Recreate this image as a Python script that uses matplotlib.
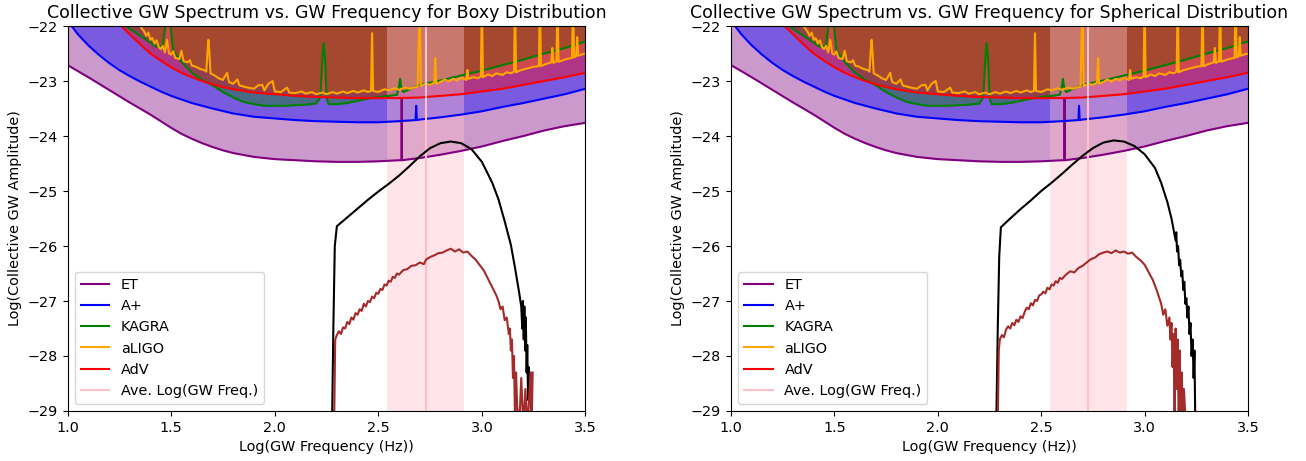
import numpy as np
import matplotlib
matplotlib.use('Agg')
import matplotlib.pyplot as plt

plt.rcParams['font.size'] = 10.4

# detector sensitivity curves, log10(freq) vs log10(strain)
et_x = [1.00, 1.10, 1.20, 1.30, 1.40, 1.45, 1.50, 1.55, 1.60, 1.65, 1.70, 1.75, 1.80, 1.90, 2.00,
        2.10, 2.20, 2.30, 2.40, 2.50, 2.60, 2.612, 2.613, 2.614, 2.70, 2.80, 2.90, 3.00, 3.10,
        3.20, 3.30, 3.40, 3.50]
et_y = [-22.71, -22.93, -23.16, -23.39, -23.61, -23.73, -23.85, -23.96, -24.05, -24.13, -24.20,
        -24.26, -24.31, -24.38, -24.42, -24.44, -24.46, -24.47, -24.47, -24.46, -24.44, -24.44,
        -23.31, -24.44, -24.40, -24.34, -24.27, -24.19, -24.09, -24.00, -23.90, -23.82, -23.76]

aplus_x = [0.98, 1.02, 1.05, 1.10, 1.15, 1.20, 1.25, 1.30, 1.35, 1.40, 1.45, 1.50, 1.60, 1.70,
           1.80, 1.90, 2.00, 2.10, 2.20, 2.30, 2.40, 2.50, 2.60, 2.680, 2.683, 2.686, 2.70,
           2.80, 2.90, 3.00, 3.10, 3.20, 3.30, 3.40, 3.50]
aplus_y = [-21.80, -22.00, -22.15, -22.35, -22.52, -22.67, -22.80, -22.91, -23.01, -23.10, -23.19,
           -23.27, -23.40, -23.50, -23.59, -23.65, -23.68, -23.71, -23.73, -23.74, -23.75, -23.75,
           -23.73, -23.71, -23.45, -23.71, -23.70, -23.66, -23.61, -23.55, -23.47, -23.40, -23.32,
           -23.24, -23.14]

kagra_x = [1.25, 1.28, 1.32, 1.36, 1.40, 1.43, 1.46, 1.475, 1.485, 1.495, 1.51, 1.55, 1.60, 1.65,
           1.70, 1.75, 1.80, 1.85, 1.90, 1.95, 2.00, 2.05, 2.10, 2.15, 2.20, 2.22, 2.23, 2.236,
           2.243, 2.25, 2.26, 2.30, 2.35, 2.40, 2.45, 2.50, 2.55, 2.59, 2.60, 2.605, 2.61, 2.62,
           2.70, 2.80, 2.90, 3.00, 3.10, 3.20, 3.30, 3.40, 3.50]
kagra_y = [-21.80, -22.00, -22.10, -22.20, -22.30, -22.38, -22.36, -21.90, -21.50, -21.90, -22.45,
           -22.65, -22.85, -22.98, -23.08, -23.20, -23.30, -23.38, -23.42, -23.45, -23.45, -23.45,
           -23.44, -23.43, -23.41, -23.30, -22.60, -22.31, -22.60, -23.30, -23.42, -23.42, -23.40,
           -23.36, -23.32, -23.29, -23.27, -23.25, -23.10, -22.96, -23.10, -23.20, -23.07, -22.99,
           -22.90, -22.81, -22.71, -22.61, -22.50, -22.40, -22.28]

aligo_x = [1.30, 1.35, 1.37, 1.38, 1.39, 1.40, 1.41, 1.42, 1.43, 1.44, 1.45, 1.46, 1.47, 1.48,
           1.49, 1.50, 1.51, 1.52, 1.54, 1.55, 1.56, 1.58, 1.59, 1.60, 1.62, 1.64, 1.66, 1.67,
           1.675, 1.68, 1.685, 1.69, 1.71, 1.73, 1.75, 1.77, 1.775, 1.78, 1.80, 1.82, 1.83, 1.85,
           1.87, 1.90, 1.92, 1.94, 1.95, 1.97, 1.99, 2.00, 2.03, 2.06, 2.07, 2.10, 2.13, 2.15,
           2.18, 2.20, 2.23, 2.25, 2.28, 2.30, 2.33, 2.35, 2.38, 2.40, 2.43, 2.45, 2.465, 2.47,
           2.475, 2.50, 2.53, 2.55, 2.58, 2.60, 2.63, 2.65, 2.69, 2.70, 2.705, 2.73, 2.75, 2.77,
           2.775, 2.78, 2.80, 2.82, 2.84, 2.86, 2.88, 2.90, 2.925, 2.93, 2.935, 2.96, 2.98, 2.995,
           3.00, 3.005, 3.03, 3.05, 3.07, 3.10, 3.12, 3.14, 3.155, 3.16, 3.165, 3.19, 3.22, 3.25,
           3.275, 3.28, 3.285, 3.31, 3.335, 3.34, 3.345, 3.36, 3.365, 3.37, 3.40, 3.42, 3.435,
           3.44, 3.445, 3.455, 3.46, 3.465, 3.48, 3.50]
aligo_y = [-21.70, -22.00, -22.10, -22.18, -22.12, -22.25, -22.22, -22.32, -22.26, -22.38, -22.42,
           -22.36, -22.48, -22.25, -22.50, -22.52, -22.46, -22.58, -22.60, -22.45, -22.64, -22.66,
           -22.62, -22.72, -22.74, -22.78, -22.80, -22.83, -22.50, -22.25, -22.50, -22.86, -22.90,
           -22.95, -22.98, -22.85, -22.95, -23.02, -23.05, -22.97, -23.08, -23.10, -23.12, -23.14,
           -23.08, -23.07, -23.17, -23.05, -23.00, -23.19, -23.20, -23.12, -23.21, -23.22, -23.19,
           -23.23, -23.20, -23.24, -23.21, -23.24, -23.20, -23.23, -23.19, -23.22, -23.18, -23.21,
           -23.17, -23.20, -23.18, -22.13, -23.18, -23.20, -23.15, -23.17, -23.13, -23.16, -23.12,
           -23.14, -23.10, -21.50, -23.09, -23.05, -23.07, -23.03, -22.58, -23.05, -23.02, -22.97,
           -23.01, -22.96, -22.99, -22.94, -22.98, -22.80, -22.96, -22.93, -22.95, -22.92, -21.50,
           -22.93, -22.88, -22.91, -22.86, -22.89, -22.84, -22.86, -22.83, -21.50, -22.84, -22.80,
           -22.77, -22.74, -22.73, -21.50, -22.73, -22.69, -22.66, -22.40, -22.67, -22.64, -21.50,
           -22.65, -22.61, -22.59, -22.58, -21.50, -22.57, -22.55, -22.20, -22.54, -22.52, -22.50]

adv_x = [1.22, 1.26, 1.30, 1.35, 1.40, 1.45, 1.50, 1.55, 1.60, 1.65, 1.70, 1.75, 1.80, 1.90, 2.00,
         2.10, 2.20, 2.30, 2.40, 2.50, 2.60, 2.70, 2.80, 2.90, 3.00, 3.10, 3.20, 3.30, 3.40, 3.50]
adv_y = [-21.80, -22.00, -22.15, -22.33, -22.50, -22.63, -22.75, -22.85, -22.93, -23.00, -23.06,
         -23.11, -23.15, -23.21, -23.24, -23.27, -23.29, -23.30, -23.31, -23.31, -23.31, -23.30,
         -23.27, -23.24, -23.19, -23.14, -23.07, -23.00, -22.93, -22.85]

# mean and spread of log(GW freq)
ave_logf = 2.728
std_logf = 0.187

# collective GW spectrum, boxy distribution
box_x = [2.277, 2.283, 2.290, 2.300, 2.35, 2.40, 2.45, 2.50, 2.55, 2.60, 2.65, 2.70, 2.75, 2.80,
         2.85, 2.90, 2.95, 3.00, 3.05, 3.08, 3.11, 3.14, 3.16, 3.18, 3.19, 3.195, 3.198, 3.202,
         3.205, 3.209, 3.212, 3.216, 3.219, 3.223, 3.226, 3.230, 3.234, 3.238]
box_y = [-29.2, -27.5, -26.0, -25.64, -25.48, -25.32, -25.16, -25.01, -24.87, -24.72, -24.55,
         -24.37, -24.22, -24.13, -24.10, -24.13, -24.24, -24.47, -24.85, -25.15, -25.55, -25.98,
         -26.40, -26.85, -27.10, -27.50, -27.00, -27.70, -27.10, -27.90, -27.30, -28.30, -27.80,
         -28.80, -28.20, -28.70, -28.40, -29.20]

box_bx = [2.287, 2.292, 2.30, 2.31, 2.32, 2.33, 2.34, 2.35, 2.36, 2.37, 2.38, 2.39, 2.40, 2.41,
          2.42, 2.43, 2.44, 2.45, 2.46, 2.47, 2.48, 2.49, 2.50, 2.51, 2.52, 2.53, 2.54, 2.55,
          2.56, 2.57, 2.58, 2.59, 2.60, 2.62, 2.64, 2.66, 2.68, 2.70, 2.72, 2.73, 2.75, 2.77,
          2.79, 2.81, 2.83, 2.85, 2.87, 2.89, 2.91, 2.93, 2.95, 2.97, 2.99, 3.01, 3.03, 3.05,
          3.07, 3.08, 3.09, 3.10, 3.11, 3.12, 3.13, 3.135, 3.14, 3.145, 3.15, 3.155, 3.16, 3.165,
          3.17, 3.18, 3.19, 3.20, 3.21, 3.22, 3.235, 3.24, 3.245]
box_by = [-29.2, -27.70, -27.62, -27.55, -27.60, -27.48, -27.50, -27.38, -27.42, -27.30, -27.34,
          -27.22, -27.25, -27.15, -27.18, -27.05, -27.10, -27.00, -27.02, -26.92, -26.95, -26.85,
          -26.87, -26.78, -26.80, -26.70, -26.72, -26.63, -26.65, -26.56, -26.58, -26.50, -26.52,
          -26.44, -26.42, -26.36, -26.35, -26.30, -26.33, -26.25, -26.20, -26.17, -26.13, -26.12,
          -26.08, -26.05, -26.10, -26.06, -26.12, -26.10, -26.18, -26.25, -26.35, -26.45, -26.60,
          -26.75, -26.90, -27.00, -27.15, -27.10, -27.35, -27.30, -27.60, -27.50, -27.90, -27.70,
          -28.40, -28.00, -29.20, -28.30, -28.90, -29.30, -28.40, -29.30, -28.60, -29.30, -28.30,
          -29.30, -28.30]

# collective GW spectrum, spherical distribution
sph_x = [2.283, 2.290, 2.297, 2.305, 2.35, 2.40, 2.45, 2.50, 2.55, 2.60, 2.65, 2.70, 2.75, 2.80,
         2.85, 2.90, 2.95, 3.00, 3.05, 3.08, 3.11, 3.13, 3.15, 3.153, 3.157, 3.162, 3.167, 3.172,
         3.177, 3.182, 3.187, 3.192, 3.197, 3.202, 3.207, 3.212, 3.217, 3.222, 3.227, 3.232,
         3.237, 3.241, 3.245]
sph_y = [-29.2, -27.5, -26.2, -25.66, -25.50, -25.33, -25.17, -25.00, -24.85, -24.69, -24.52,
         -24.36, -24.22, -24.12, -24.08, -24.10, -24.18, -24.33, -24.58, -24.85, -25.20, -25.50,
         -25.90, -25.75, -26.10, -26.00, -26.35, -26.25, -26.55, -26.45, -26.80, -26.65, -27.05,
         -26.95, -27.30, -27.10, -27.60, -27.40, -28.00, -27.70, -28.40, -27.90, -29.20]

sph_bx = [2.290, 2.295, 2.30, 2.31, 2.32, 2.33, 2.34, 2.35, 2.36, 2.37, 2.38, 2.39, 2.40, 2.41,
          2.42, 2.43, 2.44, 2.45, 2.46, 2.47, 2.48, 2.49, 2.50, 2.51, 2.52, 2.53, 2.54, 2.55,
          2.56, 2.57, 2.58, 2.59, 2.60, 2.62, 2.64, 2.66, 2.68, 2.70, 2.72, 2.74, 2.76, 2.78,
          2.80, 2.82, 2.84, 2.86, 2.88, 2.90, 2.92, 2.94, 2.96, 2.98, 3.00, 3.02, 3.04, 3.06,
          3.08, 3.09, 3.10, 3.11, 3.12, 3.125, 3.13, 3.135, 3.14, 3.145, 3.15, 3.155, 3.16,
          3.165, 3.17, 3.175, 3.18, 3.185, 3.19, 3.20]
sph_by = [-29.2, -27.90, -27.70, -27.62, -27.66, -27.52, -27.46, -27.50, -27.40, -27.44, -27.34,
          -27.38, -27.28, -27.31, -27.20, -27.12, -27.15, -27.04, -27.08, -26.98, -27.00, -26.90,
          -26.88, -26.83, -26.86, -26.76, -26.79, -26.70, -26.72, -26.64, -26.67, -26.58, -26.60,
          -26.52, -26.46, -26.48, -26.40, -26.36, -26.30, -26.24, -26.21, -26.15, -26.12, -26.10,
          -26.13, -26.08, -26.12, -26.10, -26.14, -26.12, -26.20, -26.26, -26.34, -26.48, -26.62,
          -26.82, -27.05, -27.25, -27.15, -27.45, -27.30, -27.70, -27.40, -28.20, -27.60, -29.20,
          -27.50, -28.60, -27.70, -29.30, -27.90, -29.30, -28.30, -29.30, -28.60, -29.30]

detectors = [(et_x, et_y, 'purple', 'ET'),
             (aplus_x, aplus_y, 'blue', 'A+'),
             (kagra_x, kagra_y, 'green', 'KAGRA'),
             (aligo_x, aligo_y, 'orange', 'aLIGO'),
             (adv_x, adv_y, 'red', 'AdV')]
fill_order = [0, 1, 3, 2, 4]


def draw(ax, title, sx, sy, bx, by):
    for i in fill_order:
        x, y, c, lab = detectors[i]
        ax.fill_between(x, y, -21, color=c, alpha=0.4, linewidth=0)
    for x, y, c, lab in detectors:
        ax.plot(x, y, color=c, label=lab, linewidth=1.5)
    ax.axvspan(ave_logf - std_logf, ave_logf + std_logf, color='pink', alpha=0.4, linewidth=0)
    ax.axvline(ave_logf, color='pink', linewidth=1.5, label='Ave. Log(GW Freq.)')
    ax.plot(sx, sy, color='black', linewidth=1.5)
    ax.plot(bx, by, color='brown', linewidth=1.5)
    ax.set_xlim(1.0, 3.5)
    ax.set_ylim(-29, -22)
    ax.set_xticks([1.0, 1.5, 2.0, 2.5, 3.0, 3.5])
    ax.set_xlabel('Log(GW Frequency (Hz))')
    ax.set_ylabel('Log(Collective GW Amplitude)')
    ax.set_title(title, fontsize=12.5)
    ax.legend(loc='lower left')


fig = plt.figure(figsize=(13.06, 4.61), dpi=100)
ax1 = fig.add_axes([0.0517, 0.1085, 0.3966, 0.835])
ax2 = fig.add_axes([0.5597, 0.1085, 0.3959, 0.835])

draw(ax1, 'Collective GW Spectrum vs. GW Frequency for Boxy Distribution', box_x, box_y, box_bx, box_by)
draw(ax2, 'Collective GW Spectrum vs. GW Frequency for Spherical Distribution', sph_x, sph_y, sph_bx, sph_by)

plt.savefig('out.png', dpi=100)
